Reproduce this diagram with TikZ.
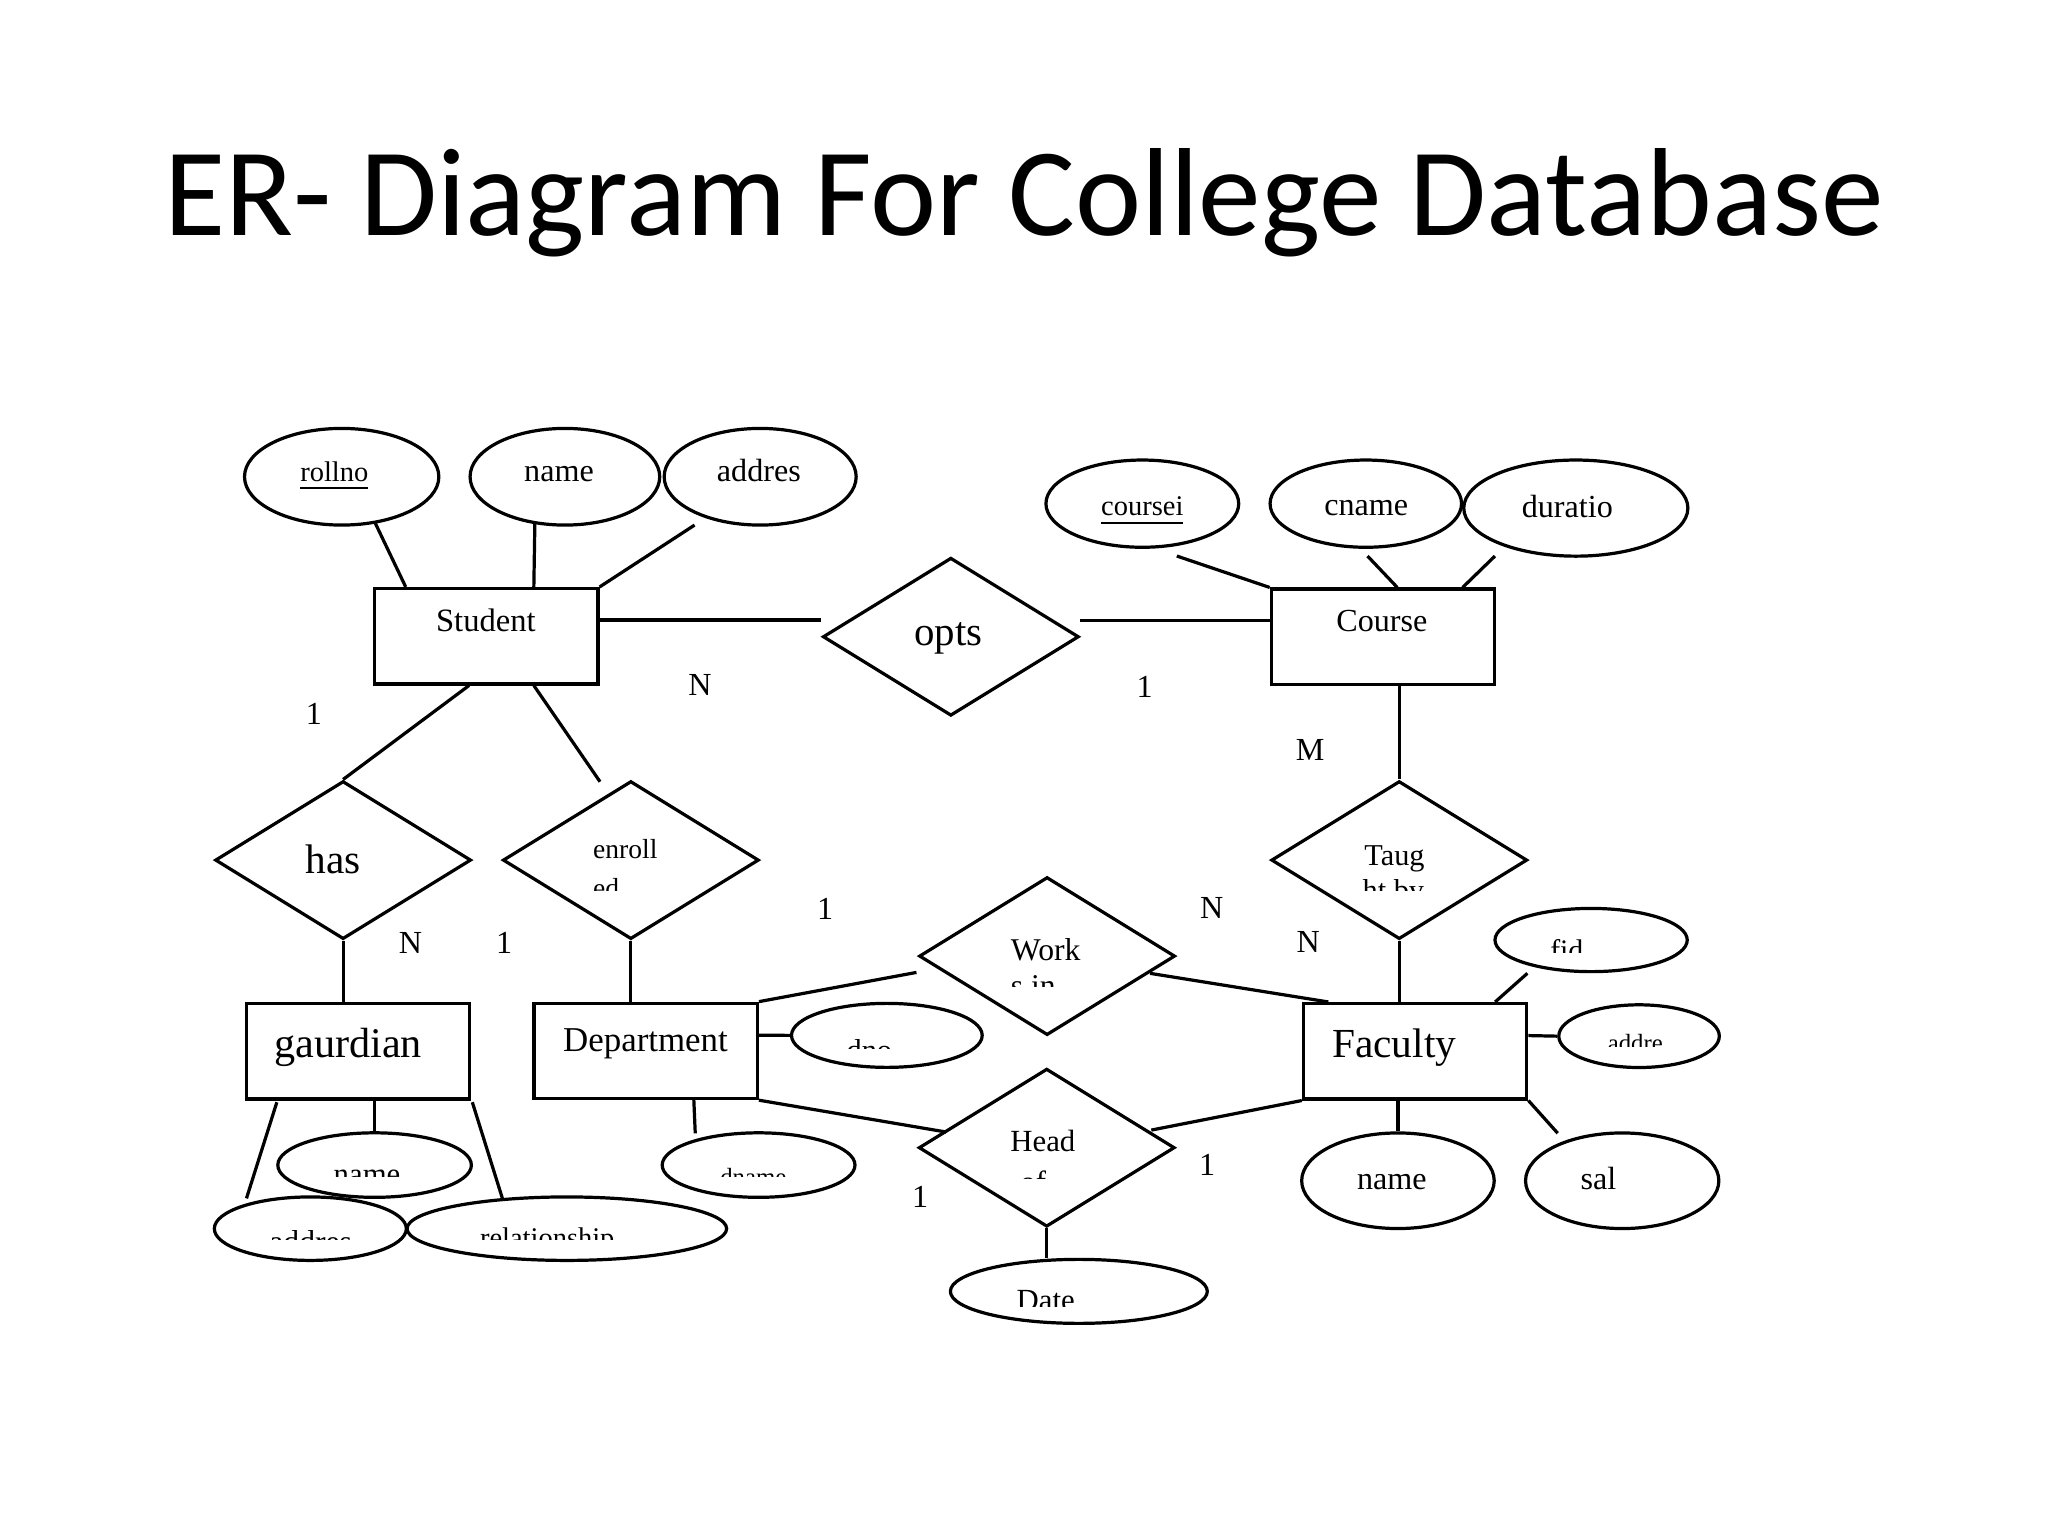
\documentclass[tikz,border=0pt]{standalone}
\usepackage{fontspec}
\setmainfont{Liberation Serif}
\newfontfamily\titlefont{Carlito}
\usetikzlibrary{shapes.geometric,calc}
\tikzset{
  lw/.style={line width=0.7pt},
  entity/.style={draw, lw, rectangle, inner sep=0, minimum width=17.1mm, minimum height=7.3mm},
  rel/.style={draw, lw, diamond, inner sep=0, minimum width=19.6mm, minimum height=12.1mm},
  attr/.style={draw, lw, ellipse, inner sep=0},
  conn/.style={lw},
  txt/.style={inner sep=0, anchor=base, font=\fontsize{#1}{#1}\selectfont},
  card/.style={inner sep=0, anchor=center, font=\fontsize{7pt}{7pt}\selectfont},
}
\newcommand\cliptxt[7]{%
  \begin{scope}
    \clip (#2-200,#3-60) rectangle (#2+200,#4);
    \node[txt=#6, anchor=#5] (#1) at (#2,#3) {#7};
  \end{scope}}
\begin{document}
\begin{tikzpicture}[x=0.1mm, y=-0.1mm]
\fill[white] (0,0) rectangle (1568,1176);
\useasboundingbox (0,0) rectangle (1568,1176);

% title
\node[inner sep=0, anchor=base, font=\titlefont\fontsize{27.3pt}{27.3pt}\selectfont] (title) at (784,180) {ER- Diagram For College Database};

% entities
\node[entity] (student) at (372.35,487.1) {};
\node[entity] (course) at (1058.85,487.5) {};
\node[entity] (gaurdian) at (274.1,804.85) {};
\node[entity] (department) at (494.35,804.6) {};
\node[entity] (faculty) at (1083.45,804.85) {};

% relationships
\node[rel] (opts) at (728,487.5) {};
\node[rel] (has) at (262.7,658.5) {};
\node[rel] (enroll) at (483,658.5) {};
\node[rel] (taught) at (1071.3,658.5) {};
\node[rel] (works) at (801.7,732) {};
\node[rel] (head) at (801.4,878.7) {};

% attributes
\node[attr, minimum width=14.88mm, minimum height=7.4mm] (rollno) at (261.6,365) {};
\node[attr, minimum width=14.52mm, minimum height=7.4mm] (sname) at (432.5,365) {};
\node[attr, minimum width=14.7mm, minimum height=7.4mm] (saddr) at (582,365) {};
\node[attr, minimum width=14.76mm, minimum height=6.68mm] (coursei) at (874.6,385.6) {};
\node[attr, minimum width=14.66mm, minimum height=6.68mm] (cname) at (1045.7,385.6) {};
\node[attr, minimum width=17.16mm, minimum height=7.36mm] (duratio) at (1206.5,389) {};
\node[attr, minimum width=14.72mm, minimum height=4.84mm] (fid) at (1218.2,719.7) {};
\node[attr, minimum width=12.29mm, minimum height=4.8mm] (faddr) at (1254.9,793.3) {};
\node[attr, minimum width=14.74mm, minimum height=7.32mm] (fname) at (1070.3,904) {};
\node[attr, minimum width=14.8mm, minimum height=7.32mm] (sal) at (1242,904) {};
\node[attr, minimum width=14.6mm, minimum height=4.9mm] (dno) at (679,792.7) {};
\node[attr, minimum width=14.76mm, minimum height=4.94mm] (dname) at (580.8,892) {};
\node[attr, minimum width=19.67mm, minimum height=4.9mm] (date) at (826,988.7) {};
\node[attr, minimum width=14.82mm, minimum height=4.94mm] (gname) at (286.8,892) {};
\node[attr, minimum width=14.7mm, minimum height=4.86mm] (gaddr) at (237.6,940.7) {};
\node[attr, minimum width=24.47mm, minimum height=4.86mm] (grel) at (434,940.7) {};

% connectors
\draw[conn] ($(rollno.center)+(25.8,35.7)$) -- ($(student.north west)+(25,0)$);
\draw[conn] ($(sname.center)+(-23,35.7)$) -- ($(student.north west)+(123.1,0)$);
\draw[conn] ($(saddr.center)+(-50.2,37)$) -- (student.north east);
\draw[conn] ($(student.east)+(0,-12.4)$) -- ($(opts.west)+(0,-12.8)$);
\draw[conn] ($(opts.east)+(0,-12.5)$) -- ($(course.west)+(0,-12.5)$);
\draw[conn] ($(coursei.center)+(26.4,40.1)$) -- (course.north west);
\draw[conn] ($(cname.center)+(1.3,40.1)$) -- ($(course.north west)+(97.7,0)$);
\draw[conn] ($(duratio.center)+(-61.9,36.7)$) -- ($(course.north west)+(147.7,0)$);
\draw[conn] (course.south -| taught.north) -- (taught.north);
\draw[conn] (taught.south) -- (taught.south |- faculty.north);
\draw[conn] ($(fid.center)+(-48.8,25.5)$) -- ($(faculty.north west)+(148,0)$);
\draw[conn] ($(faculty.east)+(0,-12)$) -- (faddr.west);
\draw[conn] (faculty.south -| fname.north) -- (fname.north);
\draw[conn] (faculty.south east) -- ($(sal.center)+(-49.4,-36.4)$);
\draw[conn] ($(works.center)+(78.8,13.2)$) -- ($(faculty.north west)+(20.3,0)$);
\draw[conn] (department.north east) -- ($(works.west)+(-0.8,12.5)$);
\draw[conn] ($(department.east)+(0,-12)$) -- (dno.west);
\draw[conn] ($(department.south west)+(123.6,0)$) -- ($(dname.center)+(-48.5,-24.3)$);
\draw[conn] (department.south east) -- ($(head.west)+(22.2,-12)$);
\draw[conn] (faculty.south west) -- ($(head.center)+(80.1,-13.5)$);
\draw[conn] (head.south) -- (head.south |- date.north);
\draw[conn] ($(student.south west)+(73.5,0)$) -- (has.north);
\draw[conn] ($(student.south west)+(123.1,0)$) -- ($(enroll.center)+(-23.6,-60)$);
\draw[conn] (has.south) -- (has.south |- gaurdian.north);
\draw[conn] (enroll.south) -- (enroll.south |- department.north);
\draw[conn] (gaurdian.south -| gname.north) -- (gname.north);
\draw[conn] ($(gaurdian.south west)+(24.6,1.3)$) -- ($(gaddr.center)+(-48.9,-23.2)$);
\draw[conn] ($(gaurdian.south east)+(0.8,1.3)$) -- ($(grel.center)+(-49.1,-22.4)$);

% main texts
\node[txt=7.1pt] (tstudent) at (372,483.7) {Student};
\node[txt=7pt] (tcourse) at (1058,483.7) {Course};
\node[txt=8.9pt] (topts) at (726,494) {opts};
\node[txt=6.2pt] (trollno) at (256,368.8) {\underline{rollno}};
\node[txt=7pt] (tsname) at (428,368.8) {name};
\node[txt=7pt] (tsaddr) at (581,368.8) {addres};
\node[txt=6.2pt] (tcoursei) at (874.6,395) {\underline{coursei}};
\node[txt=7pt] (tcname) at (1046,395) {cname};
\node[txt=7pt] (tduratio) at (1200,396) {duratio};
\node[txt=9pt] (thas) at (255,668.7) {has};
\node[txt=6pt, anchor=base west] (tenroll) at (453.5,657.2) {enroll};
\node[txt=6.6pt, anchor=base west] (ttaug) at (1043.9,662.3) {Taug};
\node[txt=6.9pt, anchor=base west] (twork) at (773.3,735) {Work};
\node[txt=6.7pt, anchor=base west] (thead) at (772.9,881.8) {Head};
\node[txt=9.2pt] (tgaurdian) at (266.6,809.5) {gaurdian};
\node[txt=7.6pt] (tdepartment) at (494.2,805.2) {Department};
\node[txt=9pt] (tfaculty) at (1067.4,809.5) {Faculty};
\node[txt=7pt] (tfname) at (1065.7,910.6) {name};
\node[txt=7pt] (tsal) at (1223.8,910.6) {sal};

% clipped texts
\cliptxt{tgname}{281}{906.8}{900.4}{base}{6.7pt}{name}
\cliptxt{tgaddr}{237.9}{958.9}{948.9}{base}{6.9pt}{addres}
\cliptxt{tgrel}{419}{955.4}{948.9}{base}{6.2pt}{relationship}
\cliptxt{tdname}{576.8}{907.4}{900.8}{base}{5.4pt}{dname}
\cliptxt{tdno}{665.6}{812.1}{802.7}{base}{6.6pt}{dno}
\cliptxt{tof}{780.6}{913.2}{902.2}{base west}{6.7pt}{of}
\cliptxt{tdate}{800.6}{1003.3}{1000}{base}{6.7pt}{Date}
\cliptxt{tsin}{773.3}{762.8}{755.5}{base west}{6.9pt}{s in}
\cliptxt{thtby}{1042.6}{689.5}{681.4}{base west}{6.6pt}{ht by}
\cliptxt{ted}{453.5}{686.8}{681.4}{base west}{6pt}{ed}
\cliptxt{tfid}{1199.6}{735.5}{728.9}{base}{6.5pt}{fid}
\cliptxt{tfaddr}{1252}{805.4}{801.3}{base}{5.4pt}{addre}

% cardinalities
\node[card] (c1) at (536,524.5) {N};
\node[card] (c2) at (876.4,525.8) {1};
\node[card] (c3) at (240.3,546.2) {1};
\node[card] (c4) at (1003,574) {M};
\node[card] (c5) at (631.7,695.5) {1};
\node[card] (c6) at (927.7,695.5) {N};
\node[card] (c7) at (314.3,722.3) {N};
\node[card] (c8) at (386,722) {1};
\node[card] (c9) at (1001.7,721) {N};
\node[card] (c10) at (924.3,892) {1};
\node[card] (c11) at (704.4,916.3) {1};
\end{tikzpicture}
\end{document}
